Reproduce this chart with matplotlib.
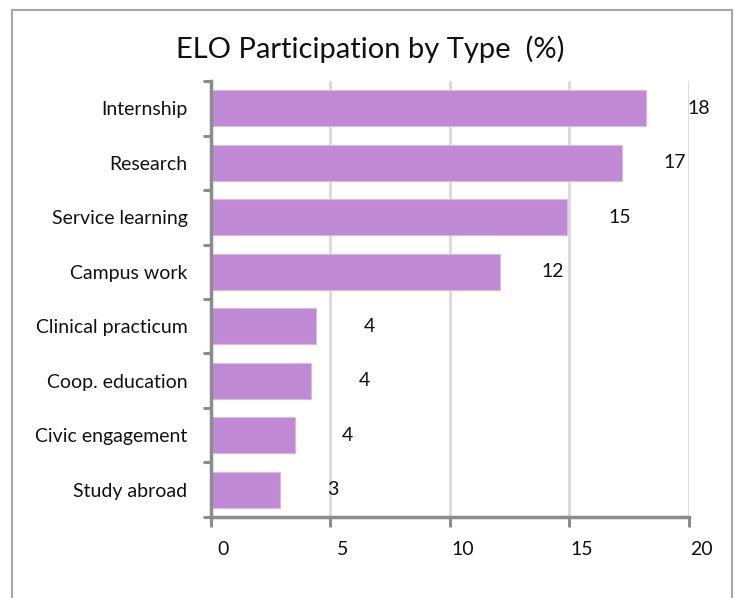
import matplotlib
matplotlib.use('Agg')
from matplotlib import pyplot as plt
from matplotlib.patches import Rectangle

categories = ['Internship', 'Research', 'Service learning', 'Campus work',
              'Clinical practicum', 'Coop. education', 'Civic engagement',
              'Study abroad']
values = [18.2, 17.2, 14.9, 12.1, 4.4, 4.2, 3.5, 2.9]
value_labels = ['18', '17', '15', '12', '4', '4', '4', '3']
x_ticks = [0, 5, 10, 15, 20]

plt.rcParams['font.family'] = ['Lato', 'DejaVu Sans']

fig = plt.figure(figsize=(7.37, 5.98), dpi=100)
ax = fig.add_axes([0.2863, 0.1355, 0.6485, 0.729])

# outer chart frame (bottom edge runs off the picture)
fig.patches.append(Rectangle((12 / 737, -0.05), 720 / 737, 1.05 - 10 / 598,
                             transform=fig.transFigure, fill=False,
                             edgecolor='#a6a6a6', linewidth=1.5))

pos = list(range(len(categories)))[::-1]
ax.barh(pos, values, height=0.66, color='#bf89d4', edgecolor='#d9b8e6',
        linewidth=0.8, zorder=3)

for p, v, lab in zip(pos, values, value_labels):
    ax.annotate(lab, (v, p), xytext=(38, 0), textcoords='offset points',
                ha='center', va='center', fontsize=14, color='#111111')

ax.set_xlim(0, 20)
ax.set_ylim(-0.5, len(categories) - 0.5)
ax.set_xticks(x_ticks)
ax.set_xticklabels([])
# Excel puts the x tick labels a little right of their ticks
for t in x_ticks:
    ax.annotate(str(t), (t, 0), xycoords=('data', 'axes fraction'),
                xytext=(9, -17), textcoords='offset points',
                ha='center', va='top', fontsize=14, color='#111111')

ax.set_yticks(pos)
ax.set_yticklabels(categories, fontsize=14, color='#111111')
ax.set_yticks([i - 0.5 for i in range(len(categories) + 1)], minor=True)
ax.tick_params(axis='y', which='major', length=0, pad=17)
ax.tick_params(axis='y', which='minor', length=6, width=2.2, color='#8c8c8c')
ax.tick_params(axis='x', length=7, width=2.2, color='#8c8c8c')

ax.grid(axis='x', color='#d9d9d9', linewidth=2, zorder=0)
ax.set_axisbelow(True)
for s in ['top', 'right']:
    ax.spines[s].set_visible(False)
for s in ['left', 'bottom']:
    ax.spines[s].set_color('#8c8c8c')
    ax.spines[s].set_linewidth(2.5)
    ax.spines[s].set_zorder(4)

fig.text(0.502, 0.918, 'ELO Participation by Type  (%)', ha='center',
         va='center', fontsize=21, color='#111111')

fig.savefig('out.png', dpi=100)
